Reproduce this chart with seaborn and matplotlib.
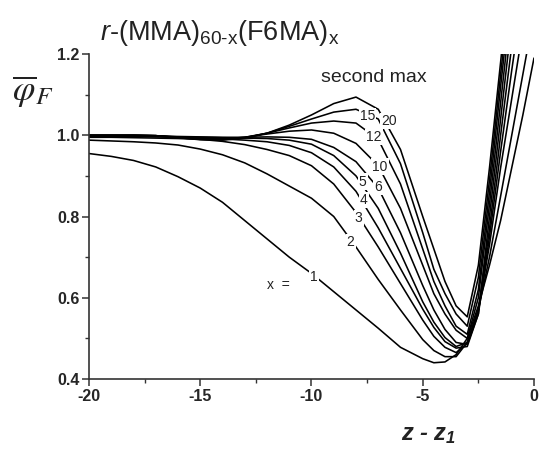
import numpy as np
import pandas as pd
import matplotlib
matplotlib.use("Agg")
import matplotlib.pyplot as plt
import seaborn as sns
from matplotlib.ticker import MultipleLocator

sns.set_theme(style="white")
plt.rcParams['font.family'] = ['Liberation Sans', 'DejaVu Sans']
plt.rcParams['mathtext.fontset'] = 'custom'
plt.rcParams['mathtext.rm'] = 'Liberation Sans'
plt.rcParams['mathtext.it'] = 'Liberation Sans:italic'
plt.rcParams['mathtext.bf'] = 'Liberation Sans:italic:bold'

# ---- data ----
z = [-20, -19, -18, -17, -16, -15, -14, -13, -12, -11, -10, -9, -8, -7, -6, -5,
     -4.5, -4, -3.5, -3, -2.5, -2, -1.5, -1, -0.5, 0]

phi_x1 = [0.955, 0.948, 0.938, 0.922, 0.898, 0.870, 0.835, 0.790, 0.745, 0.700, 0.660, 0.615, 0.570, 0.525, 0.478, 0.450,
          0.440, 0.442, 0.460, 0.500, 0.580, 0.680, 0.790, 0.920, 1.050, 1.190]
phi_x2 = [0.988, 0.986, 0.984, 0.981, 0.976, 0.966, 0.952, 0.932, 0.905, 0.875, 0.845, 0.800, 0.725, 0.645, 0.570, 0.497,
          0.470, 0.455, 0.455, 0.490, 0.570, 0.700, 0.850, 1.000, 1.150, 1.300]
phi_x3 = [0.995, 0.995, 0.994, 0.993, 0.992, 0.990, 0.985, 0.977, 0.965, 0.950, 0.925, 0.880, 0.810, 0.725, 0.635, 0.545,
          0.505, 0.478, 0.465, 0.488, 0.570, 0.730, 0.920, 1.090, 1.260, 1.400]
phi_x4 = [0.997, 0.997, 0.997, 0.996, 0.995, 0.993, 0.991, 0.988, 0.984, 0.975, 0.957, 0.922, 0.862, 0.772, 0.672, 0.572,
          0.527, 0.492, 0.476, 0.480, 0.560, 0.750, 0.960, 1.160, 1.350, 1.500]
phi_x5 = [0.998, 0.998, 0.998, 0.997, 0.996, 0.995, 0.994, 0.993, 0.992, 0.988, 0.978, 0.950, 0.900, 0.820, 0.710, 0.590,
          0.540, 0.502, 0.480, 0.490, 0.570, 0.770, 1.000, 1.220, 1.420, 1.500]
phi_x6 = [0.999, 0.999, 0.998, 0.998, 0.997, 0.996, 0.995, 0.995, 0.996, 0.995, 0.990, 0.970, 0.935, 0.870, 0.760, 0.630,
          0.570, 0.522, 0.490, 0.485, 0.560, 0.800, 1.040, 1.280, 1.450, 1.500]
phi_x10 = [1.000, 1.000, 1.000, 0.999, 0.996, 0.992, 0.991, 0.995, 1.003, 1.010, 1.013, 1.005, 0.980, 0.925, 0.820, 0.680,
           0.610, 0.560, 0.520, 0.500, 0.600, 0.830, 1.080, 1.330, 1.500, 1.500]
phi_x12 = [1.000, 1.000, 1.000, 0.999, 0.995, 0.991, 0.990, 0.995, 1.005, 1.018, 1.030, 1.035, 1.030, 0.990, 0.880, 0.720,
           0.640, 0.580, 0.530, 0.510, 0.620, 0.860, 1.120, 1.370, 1.500, 1.500]
phi_x15 = [1.000, 1.000, 1.000, 0.999, 0.994, 0.990, 0.989, 0.994, 1.005, 1.022, 1.040, 1.057, 1.064, 1.040, 0.930, 0.760,
           0.670, 0.610, 0.560, 0.530, 0.650, 0.890, 1.150, 1.400, 1.500, 1.500]
phi_x20 = [1.000, 1.000, 1.000, 0.999, 0.994, 0.989, 0.988, 0.993, 1.005, 1.025, 1.050, 1.078, 1.094, 1.064, 0.965, 0.800,
           0.720, 0.640, 0.580, 0.553, 0.680, 0.920, 1.180, 1.450, 1.500, 1.500]

x_values = [1, 2, 3, 4, 5, 6, 10, 12, 15, 20]
series = [phi_x1, phi_x2, phi_x3, phi_x4, phi_x5, phi_x6, phi_x10, phi_x12, phi_x15, phi_x20]

label_text = ['1', '2', '3', '4', '5', '6', '10', '12', '15', '20']
label_z = [-9.9, -8.24, -7.88, -7.65, -7.7, -7.0, -6.93, -7.2, -7.48, -6.5]
label_phi = [0.652, 0.738, 0.797, 0.840, 0.886, 0.872, 0.923, 0.995, 1.047, 1.035]

rows = []
for xv, s in zip(x_values, series):
    for zz, pp in zip(z, s):
        rows.append({'z': zz, 'phi': pp, 'x': xv})
df = pd.DataFrame(rows)

fig = plt.figure(figsize=(5.39, 4.49), dpi=100)
ax = fig.add_axes([0.1651, 0.1559, 0.8256, 0.7238])

sns.lineplot(data=df, x='z', y='phi', hue='x', palette={v: 'black' for v in x_values},
             estimator=None, sort=False, legend=False, linewidth=1.15, ax=ax)

for t, lz, lp in zip(label_text, label_z, label_phi):
    ax.text(lz, lp, t, fontsize=10, ha='center', va='center', color='#222222',
            bbox=dict(boxstyle='square,pad=0.08', fc='white', ec='none'))

ax.text(-11.5, 0.632, 'x  =', fontsize=10, ha='center', va='center', color='#222222')
ax.text(-7.2, 1.143, 'second max', fontsize=14, ha='center', va='center', color='#222222')

ax.set_xlim(-20, 0)
ax.set_ylim(0.4, 1.2)
ax.xaxis.set_major_locator(MultipleLocator(5))
ax.xaxis.set_minor_locator(MultipleLocator(2.5))
ax.yaxis.set_major_locator(MultipleLocator(0.2))
ax.yaxis.set_minor_locator(MultipleLocator(0.1))
ax.xaxis.set_major_formatter(matplotlib.ticker.FuncFormatter(lambda v, p: '%d' % v if v != 0 else '0'))
ax.yaxis.set_major_formatter(matplotlib.ticker.FormatStrFormatter('%.1f'))

for s in ['top', 'right']:
    ax.spines[s].set_visible(False)
for s in ['left', 'bottom']:
    ax.spines[s].set_color('#333333')
    ax.spines[s].set_linewidth(1.2)

ax.tick_params(which='major', direction='out', length=5, width=1.1, color='#333333',
               labelsize=11.5, pad=2, bottom=True, left=True)
ax.tick_params(which='minor', direction='out', length=3, width=1.0, color='#333333',
               bottom=True, left=True)
for lab in ax.get_xticklabels() + ax.get_yticklabels():
    lab.set_fontweight('bold')
ax.set_xlabel('')
ax.set_ylabel('')

fig.text(100 / 539, 1 - 33 / 449, r'$\mathit{r}$-(MMA)$_{\mathrm{60\text{-}x}}$(F6MA)$_{\mathrm{x}}$',
         fontsize=19.5, ha='left', va='center', color='#222222')
fig.text(33 / 539, 1 - 92 / 449, r'$\overline{\varphi}_F$', fontsize=26, ha='center', va='center',
         math_fontfamily='stix', color='#222222')
fig.text(429 / 539, 1 - 435 / 449, r'z - z$_\mathbf{1}$', fontsize=17, fontweight='bold', style='italic',
         ha='center', va='center', color='#222222')

fig.savefig('out.png', dpi=100)
